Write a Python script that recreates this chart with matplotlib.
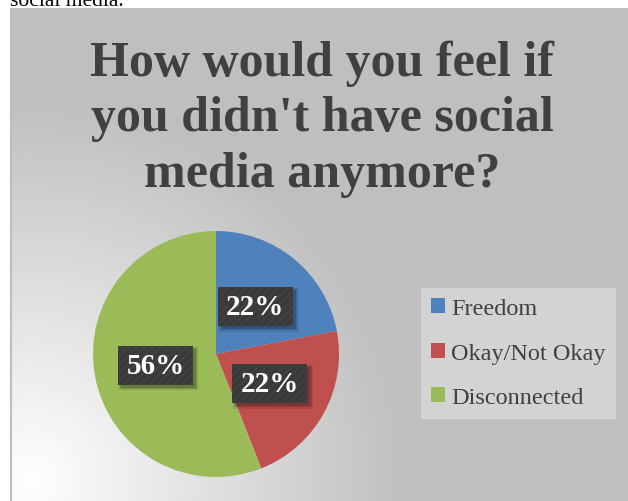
import matplotlib
matplotlib.use("Agg")
import matplotlib.pyplot as plt
import numpy as np
from matplotlib.patches import Rectangle

# Survey answers
categories = ["Freedom", "Okay/Not Okay", "Disconnected"]
shares = [22, 22, 56]
slice_colors = ["#4F81BD", "#C0504D", "#9BBB59"]
title_lines = ["How would you feel if", "you didn't have social", "media anymore?"]
caption_above = "social media."

W, H = 628, 502
fig = plt.figure(figsize=(W / 100, H / 100), dpi=100)
fig.patch.set_facecolor("white")

SERIF = ["Liberation Serif", "DejaVu Serif"]

# ---- chart area background: radial white-to-gray fill, pixel coordinates ----
bg = fig.add_axes([0, 0, 1, 1])
x0, y0 = 10, 9
yy, xx = np.mgrid[y0:H, x0:W] + 0.5
dist = np.hypot(xx - 30, yy - 480)
t = np.clip(dist / 380.0, 0, 1)
val = (255 - (255 - 191) * t) / 255.0
bg.imshow(np.dstack([val, val, val]), extent=(x0, W, H, y0),
          interpolation="bilinear", aspect="auto")
bg.plot([x0 + 0.5, x0 + 0.5], [y0, H], color="#BFBFBF", lw=1.6,
        solid_capstyle="butt")
bg.set_xlim(0, W)
bg.set_ylim(H, 0)
bg.axis("off")

# text of the surrounding document, cut by the top edge
fig.text(10 / W, 1 - 6 / H, caption_above, family=SERIF, fontsize=15.5,
         ha="left", va="baseline", color="black")

# ---- title ----
for line, base in zip(title_lines, [76, 131.5, 187]):
    bg.text(322, base, line, ha="center", va="baseline", fontsize=36,
            fontweight="bold", family=SERIF, color="#404040")

# ---- pie ----
ax = fig.add_axes([93 / W, (H - 478) / H, 246 / W, 246 / H])
wedges, _, autotexts = ax.pie(
    shares, colors=slice_colors, startangle=90, counterclock=False,
    autopct=lambda p: f"{p:.0f}%", pctdistance=0.5, radius=1,
    wedgeprops=dict(linewidth=0))
ax.set_xlim(-1, 1)
ax.set_ylim(-1, 1)
ax.set_aspect("equal")
ax.axis("off")

fig.canvas.draw()
px = ax.transData.transform((1, 0))[0] - ax.transData.transform((0, 0))[0]
bw, bh = 75 / px, 39 / px
for at in autotexts:
    cx, cy = at.get_position()
    # soft drop shadow
    for k, a in enumerate([0.10, 0.12, 0.16]):
        g = (2 - k) * 1.2 / px
        ax.add_patch(Rectangle((cx - bw / 2 + 3 / px - g, cy - bh / 2 - 3 / px - g),
                               bw + 2 * g, bh + 2 * g, facecolor="black",
                               alpha=a, linewidth=0, zorder=3))
    ax.add_patch(Rectangle((cx - bw / 2, cy - bh / 2), bw, bh,
                           facecolor="#3A3A3A", linewidth=0, zorder=4))
    ax.add_patch(Rectangle((cx - bw / 2, cy - bh / 2), bw, bh, fill=False,
                           hatch="////", edgecolor="#444444", linewidth=0,
                           zorder=4.5))
    at.set_zorder(5)
    at.set_color("white")
    at.set_fontsize(21)
    at.set_fontweight("bold")
    at.set_family(SERIF)
    at.set_va("center")
    at.set_ha("center")

# ---- legend ----
leg = fig.legend(
    wedges, categories, loc="upper left",
    bbox_to_anchor=(421 / W, 1 - 289 / H), borderaxespad=0,
    frameon=True, fancybox=False, facecolor="#D3D3D3", edgecolor="none",
    framealpha=1, prop=dict(family=SERIF, size=17.5), labelcolor="#404040",
    handlelength=0.55, handleheight=0.55, handletextpad=0.28,
    labelspacing=0.97, borderpad=0.42)

fig.savefig("out.png", dpi=100)
